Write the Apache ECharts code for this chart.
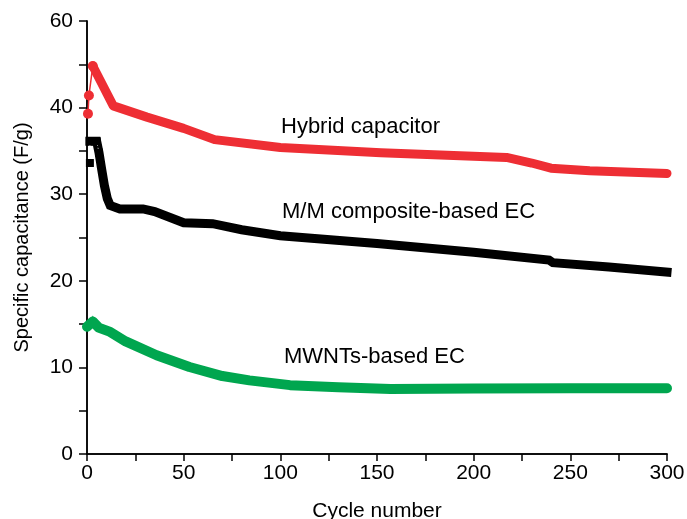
<!DOCTYPE html>
<html>
<head>
<meta charset="utf-8">
<script src="https://cdn.jsdelivr.net/npm/echarts@6/dist/echarts.min.js"></script>
<style>
  html, body { margin: 0; padding: 0; background: #fff; }
  #main { width: 687px; height: 519px; }
</style>
</head>
<body>
<div id="main"></div>
<script>
// cycle number vs specific capacitance (F/g)
const hybridStart = [[0.5, 39.3], [1, 41.4], [3, 44.8]]
const hybrid = [[3, 44.8], [13.6, 40.2], [31, 38.9], [50, 37.6], [66, 36.3], [100, 35.4], [152, 34.8], [217, 34.25], [230, 33.6], [240, 33.0], [260, 32.7], [300, 32.4]]

const mmStart = [[1.5, 33.6], [1.5, 36.1], [5, 36.1], [6.2, 34.8]]
const mm = [[1.5, 36.1], [5, 36.1], [6.2, 34.8], [7.5, 33], [9, 31], [10.5, 29.5], [12, 28.7], [17, 28.3], [29, 28.3], [35, 28], [50, 26.7], [65, 26.6], [80, 25.9], [100, 25.2], [150, 24.3], [200, 23.3], [239, 22.4], [241, 22.1], [270, 21.6], [300, 21.0]]

const mwnt = [[0, 14.7], [3, 15.3], [6, 14.6], [12, 14.1], [20, 13.0], [36, 11.4], [53, 10.05], [70, 9.0], [84, 8.5], [105, 7.95], [130, 7.7], [157, 7.5], [200, 7.55], [250, 7.6], [300, 7.6]]

// tick labels as printed on the figure (top one reads 60)
const yTickLabels = ['0', '10', '20', '30', '40', '60']
const xTickLabels = ['0', '50', '100', '150', '200', '250', '300']

const font = 'Liberation Sans, Arial, sans-serif'
const red = '#ee2e34'
const green = '#00a64f'

const chart = echarts.init(document.getElementById('main'))

const axisCommon = {
  axisLine: { show: true, onZero: false, lineStyle: { color: '#000', width: 1.5 } },
  splitLine: { show: false },
  axisLabel: { color: '#000', fontSize: 21, fontFamily: font },
  nameTextStyle: { color: '#000', fontSize: 21, fontFamily: font }
}

chart.setOption({
  animation: false,
  backgroundColor: '#fff',
  grid: { left: 87, right: 20, top: 21, bottom: 65, containLabel: false, outerBoundsMode: 'none' },
  xAxis: [{
    type: 'value', min: 0, max: 300, interval: 50,
    name: 'Cycle number', nameLocation: 'middle', nameGap: 47,
    ...axisCommon,
    axisTick: { show: true, inside: false, length: 7, lineStyle: { color: '#000', width: 1.5 } },
    minorTick: { show: true, splitNumber: 2, length: 7, lineStyle: { color: '#000', width: 1.5 } },
    axisLabel: { ...axisCommon.axisLabel, margin: 9, formatter: v => xTickLabels[v / 50] },
  }, {
    type: 'value', min: 0, max: 300, position: 'top',
    axisLine: { show: true, lineStyle: { color: '#000', width: 1.5 } },
    axisTick: { show: false }, axisLabel: { show: false }, splitLine: { show: false }
  }],
  yAxis: [{
    type: 'value', min: 0, max: 50, interval: 10,
    name: 'Specific capacitance (F/g)', nameLocation: 'middle', nameGap: 55, nameRotate: 90,
    ...axisCommon,
    nameTextStyle: { ...axisCommon.nameTextStyle, fontSize: 20 },
    axisTick: { show: true, inside: false, length: 8, lineStyle: { color: '#000', width: 1.5 } },
    minorTick: { show: true, splitNumber: 2, length: 8, lineStyle: { color: '#000', width: 1.5 } },
    axisLabel: { ...axisCommon.axisLabel, margin: 14, formatter: v => yTickLabels[v / 10] },
  }, {
    type: 'value', min: 0, max: 50, position: 'right',
    axisLine: { show: true, lineStyle: { color: '#000', width: 1.5 } },
    axisTick: { show: false }, axisLabel: { show: false }, splitLine: { show: false }
  }],
  series: [
    {
      type: 'line', data: mwnt, symbol: 'none', smooth: false,
      lineStyle: { color: green, width: 10, cap: 'round', join: 'round' }
    },
    {
      type: 'line', data: [mwnt[1]], symbol: 'triangle', symbolSize: 12,
      itemStyle: { color: green }, lineStyle: { width: 0 }
    },
    {
      type: 'line', data: mm, symbol: 'none',
      lineStyle: { color: '#000', width: 9, cap: 'square', join: 'miter' }
    },
    {
      type: 'line', data: mmStart, symbol: 'rect', symbolSize: 8, showAllSymbol: true,
      itemStyle: { color: '#000' },
      lineStyle: { color: '#fff', width: 1, type: [3, 2] }, z: 3
    },
    {
      type: 'line', data: hybrid, symbol: 'none',
      lineStyle: { color: red, width: 9, cap: 'round', join: 'round' }
    },
    {
      type: 'line', data: hybridStart, symbol: 'circle', symbolSize: 10, showAllSymbol: true,
      itemStyle: { color: red }, lineStyle: { color: red, width: 1.5 }
    }
  ],
  graphic: [
    { type: 'text', left: 281, top: 116, style: { text: 'Hybrid capacitor', fill: '#000', font: '22px ' + font } },
    { type: 'text', left: 282, top: 201, style: { text: 'M/M composite-based EC', fill: '#000', font: '22px ' + font } },
    { type: 'text', left: 284, top: 346, style: { text: 'MWNTs-based EC', fill: '#000', font: '22px ' + font } }
  ]
})
</script>
</body>
</html>
